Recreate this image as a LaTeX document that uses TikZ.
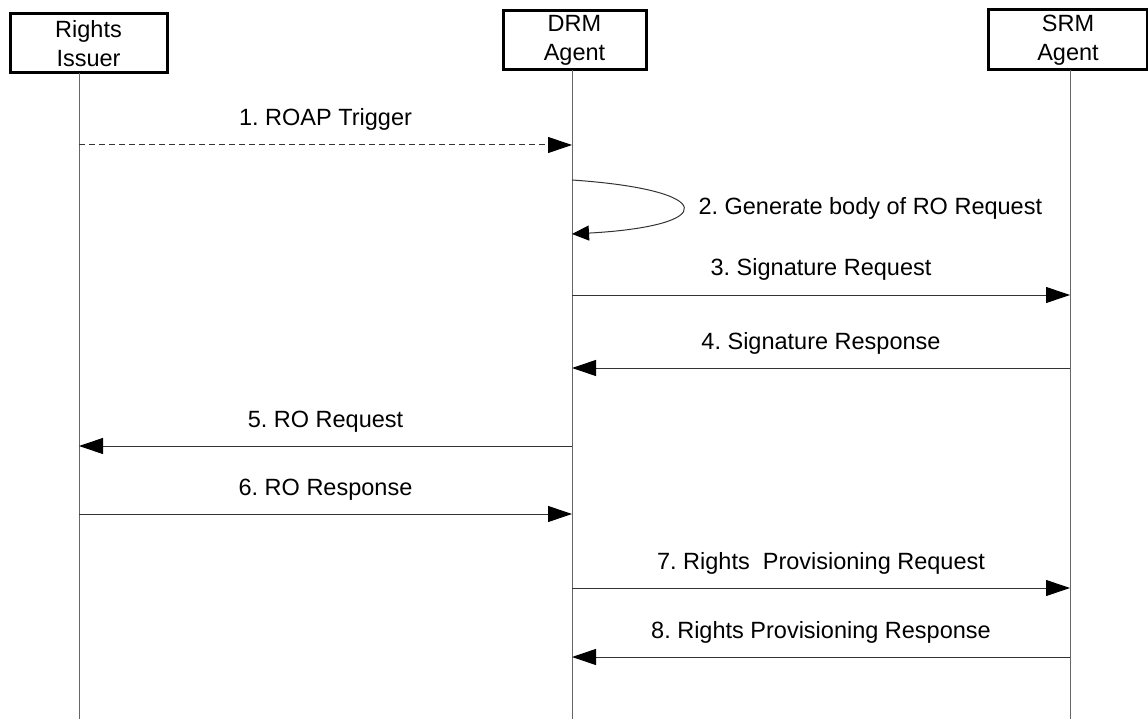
\documentclass[tikz,border=0pt]{standalone}
\usepackage{fontspec}
\setmainfont{Liberation Sans}
\usepackage{tikz}
\usetikzlibrary{positioning}
\usetikzlibrary{arrows.meta}
\frenchspacing

\begin{document}
\begin{tikzpicture}[x=1pt,y=-1pt,
		party/.style = {draw,line width=3pt,rectangle,align=center,inner sep=0pt,font=\fontsize{23.5}{29}\selectfont},
		life/.style = {draw=black!60,line width=1pt},
		msg/.style = {draw=black!80,line width=1pt,-{Triangle[length=24pt,width=16pt,color=black]}},
		lbl/.style = {anchor=base,yshift=19pt,font=\fontsize{23.5}{29}\selectfont}]
		\useasboundingbox (0,0) rectangle (1148,719);
		% participants
		\node[party,minimum width=157pt,minimum height=59pt] at (88.5,43.5) (ri) {Rights\\Issuer};
		\node[party,minimum width=143pt,minimum height=59pt] at (574.5,40.5) (drm) {DRM\\Agent};
		\node[party,minimum width=159pt,minimum height=60pt] at (1068,40) (srm) {SRM\\Agent};
		% lifelines
		\coordinate (ri top) at (79,73);   \coordinate (ri bot) at (79,719);
		\coordinate (drm top) at (572,70); \coordinate (drm bot) at (572,719);
		\coordinate (srm top) at (1070,70); \coordinate (srm bot) at (1070,719);
		\draw[life] (ri top) to (ri bot);
		\draw[life] (drm top) to (drm bot);
		\draw[life] (srm top) to (srm bot);
		% message points
		\coordinate (ri1) at (79,145);    \coordinate (drm1) at (572,145);
		\coordinate (drm2a) at (572,180); \coordinate (drm2b) at (572,234);
		\coordinate (drm3) at (572,295);  \coordinate (srm3) at (1070,295);
		\coordinate (drm4) at (572,368);  \coordinate (srm4) at (1070,368);
		\coordinate (ri5) at (79,446);    \coordinate (drm5) at (572,446);
		\coordinate (ri6) at (79,514);    \coordinate (drm6) at (572,514);
		\coordinate (drm7) at (572,588);  \coordinate (srm7) at (1070,588);
		\coordinate (drm8) at (572,657);  \coordinate (srm8) at (1070,657);
		% messages
		\draw[msg,dash pattern=on 6pt off 4pt] (ri1) to node[lbl] {1. ROAP Trigger} (drm1);
		\draw[msg,-{Triangle[length=17pt,width=15pt,color=black]}] (drm2a) .. controls (719,190) and (719,226) .. (drm2b);
		\node[anchor=base west,font=\fontsize{23.5}{29}\selectfont] at (695,215) (gen) {2. Generate body of RO Request};
		\draw[msg] (drm3) to node[lbl] {3. Signature Request} (srm3);
		\draw[msg] (srm4) to node[lbl] {4. Signature Response} (drm4);
		\draw[msg] (drm5) to node[lbl] {5. RO Request} (ri5);
		\draw[msg] (ri6) to node[lbl] {6. RO Response} (drm6);
		\draw[msg] (drm7) to node[lbl] {7. Rights\ \ Provisioning Request} (srm7);
		\draw[msg] (srm8) to node[lbl] {8. Rights Provisioning Response} (drm8);
	\end{tikzpicture}
\end{document}
